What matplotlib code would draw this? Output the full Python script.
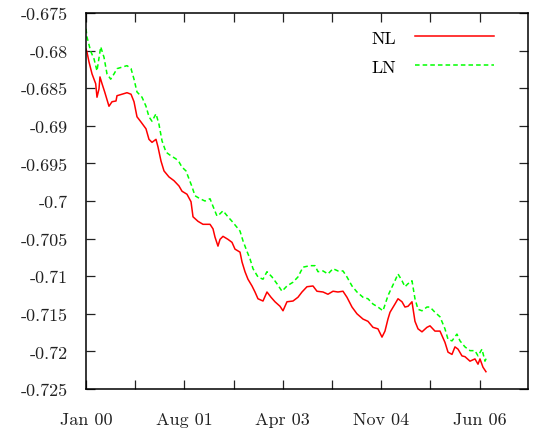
import matplotlib
matplotlib.use("Agg")
import matplotlib.pyplot as plt
from matplotlib.ticker import FixedLocator, FuncFormatter
import numpy as np

# === Данные, время в долях года ===
nl_years = [2000.055, 2000.071, 2000.103, 2000.152, 2000.211, 2000.232, 2000.264, 2000.280,
            2000.313, 2000.356, 2000.425, 2000.474, 2000.538, 2000.554, 2000.635, 2000.715,
            2000.780, 2000.828, 2000.876, 2000.941, 2001.021, 2001.069, 2001.118, 2001.182,
            2001.214, 2001.263, 2001.311, 2001.391, 2001.472, 2001.552, 2001.601, 2001.681,
            2001.746, 2001.778, 2001.858, 2001.939, 2002.052, 2002.100, 2002.132, 2002.180,
            2002.213, 2002.261, 2002.341, 2002.406, 2002.454, 2002.535, 2002.567, 2002.615,
            2002.663, 2002.728, 2002.776, 2002.824, 2002.905, 2002.969, 2003.034, 2003.098,
            2003.179, 2003.227, 2003.291, 2003.388, 2003.468, 2003.533, 2003.613, 2003.710,
            2003.774, 2003.871, 2003.951, 2004.032, 2004.112, 2004.193, 2004.257, 2004.338,
            2004.418, 2004.515, 2004.595, 2004.676, 2004.756, 2004.821, 2004.869, 2004.917,
            2004.950, 2005.030, 2005.079, 2005.143, 2005.191, 2005.240, 2005.304, 2005.352,
            2005.401, 2005.465, 2005.545, 2005.594, 2005.674, 2005.755, 2005.835, 2005.884,
            2005.948, 2005.996, 2006.045, 2006.109, 2006.157, 2006.238, 2006.318, 2006.367,
            2006.399, 2006.447, 2006.495]
nl_values = [-0.6798, -0.6802, -0.6815, -0.6831, -0.6844, -0.6862, -0.6851, -0.6835,
             -0.6844, -0.6855, -0.6874, -0.6868, -0.6867, -0.6860, -0.6858, -0.6856,
             -0.6858, -0.6868, -0.6888, -0.6895, -0.6904, -0.6918, -0.6922, -0.6918,
             -0.6928, -0.6947, -0.6960, -0.6968, -0.6973, -0.6980, -0.6987, -0.6991,
             -0.7001, -0.7021, -0.7027, -0.7031, -0.7031, -0.7037, -0.7048, -0.7060,
             -0.7051, -0.7047, -0.7051, -0.7055, -0.7064, -0.7068, -0.7081, -0.7094,
             -0.7104, -0.7113, -0.7121, -0.7130, -0.7133, -0.7121, -0.7128, -0.7134,
             -0.7140, -0.7146, -0.7134, -0.7133, -0.7128, -0.7121, -0.7114, -0.7113,
             -0.7120, -0.7121, -0.7124, -0.7120, -0.7121, -0.7120, -0.7128, -0.7141,
             -0.7150, -0.7157, -0.7160, -0.7168, -0.7170, -0.7181, -0.7173, -0.7157,
             -0.7148, -0.7137, -0.7130, -0.7134, -0.7141, -0.7140, -0.7134, -0.7160,
             -0.7170, -0.7174, -0.7168, -0.7166, -0.7173, -0.7173, -0.7188, -0.7201,
             -0.7204, -0.7194, -0.7197, -0.7206, -0.7207, -0.7213, -0.7210, -0.7217,
             -0.7210, -0.7221, -0.7227]

ln_years = [2000.055, 2000.071, 2000.131, 2000.184, 2000.232, 2000.292, 2000.345, 2000.393,
            2000.453, 2000.506, 2000.554, 2000.635, 2000.715, 2000.780, 2000.828, 2000.876,
            2000.957, 2001.021, 2001.069, 2001.118, 2001.182, 2001.230, 2001.279, 2001.343,
            2001.424, 2001.504, 2001.552, 2001.601, 2001.665, 2001.697, 2001.762, 2001.810,
            2001.891, 2001.971, 2002.052, 2002.100, 2002.164, 2002.213, 2002.261, 2002.341,
            2002.406, 2002.486, 2002.535, 2002.583, 2002.647, 2002.696, 2002.744, 2002.824,
            2002.905, 2002.969, 2003.050, 2003.130, 2003.211, 2003.291, 2003.388, 2003.468,
            2003.549, 2003.662, 2003.742, 2003.790, 2003.871, 2003.951, 2004.032, 2004.112,
            2004.193, 2004.257, 2004.338, 2004.418, 2004.515, 2004.595, 2004.676, 2004.756,
            2004.837, 2004.917, 2004.950, 2005.030, 2005.079, 2005.143, 2005.191, 2005.240,
            2005.304, 2005.352, 2005.401, 2005.465, 2005.545, 2005.594, 2005.674, 2005.755,
            2005.835, 2005.884, 2005.948, 2006.028, 2006.077, 2006.157, 2006.238, 2006.318,
            2006.367, 2006.431, 2006.479, 2006.512]
ln_values = [-0.6771, -0.6782, -0.6801, -0.6811, -0.6827, -0.6795, -0.6809, -0.6831,
             -0.6838, -0.6831, -0.6824, -0.6822, -0.6820, -0.6824, -0.6838, -0.6855,
             -0.6862, -0.6874, -0.6888, -0.6894, -0.6884, -0.6898, -0.6920, -0.6935,
             -0.6940, -0.6944, -0.6948, -0.6955, -0.6960, -0.6967, -0.6981, -0.6993,
             -0.6997, -0.7000, -0.6997, -0.7007, -0.7020, -0.7017, -0.7013, -0.7021,
             -0.7027, -0.7035, -0.7040, -0.7053, -0.7067, -0.7077, -0.7090, -0.7101,
             -0.7104, -0.7094, -0.7101, -0.7110, -0.7120, -0.7113, -0.7108, -0.7101,
             -0.7088, -0.7086, -0.7086, -0.7094, -0.7093, -0.7097, -0.7090, -0.7093,
             -0.7093, -0.7101, -0.7113, -0.7121, -0.7128, -0.7130, -0.7137, -0.7141,
             -0.7146, -0.7126, -0.7120, -0.7106, -0.7097, -0.7106, -0.7114, -0.7110,
             -0.7106, -0.7130, -0.7144, -0.7146, -0.7141, -0.7141, -0.7148, -0.7154,
             -0.7170, -0.7184, -0.7186, -0.7177, -0.7186, -0.7194, -0.7199, -0.7199,
             -0.7206, -0.7197, -0.7213, -0.7207]

x_major = [2000.055, 2001.639, 2003.224, 2004.808, 2006.393]
x_minor = [2000.847, 2002.432, 2004.016, 2005.600]
x_labels = ["Jan 00", "Aug 01", "Apr 03", "Nov 04", "Jun 06"]
y_ticks = [-0.725, -0.72, -0.715, -0.71, -0.705, -0.7, -0.695, -0.69, -0.685, -0.68, -0.675]

# === Оформление ===
plt.rcParams['font.family'] = ['cmr10', 'DejaVu Serif']
plt.rcParams['axes.unicode_minus'] = False
plt.rcParams['axes.formatter.use_mathtext'] = True

fig = plt.figure(figsize=(5.36, 4.35), dpi=100)
ax = fig.add_axes([86 / 536, 1 - 390 / 435, 442 / 536, 376 / 435])

ax.plot(nl_years, nl_values, color='#ff0000', lw=1.1, label='NL')
ax.plot(ln_years, ln_values, color='#00ff00', lw=1.1, dashes=(3, 2), label='LN')

ax.set_xlim(2000.055, 2007.172)
ax.set_ylim(-0.725, -0.675)

ax.xaxis.set_major_locator(FixedLocator(x_major))
ax.xaxis.set_minor_locator(FixedLocator(x_minor))
ax.set_xticklabels(x_labels)
ax.yaxis.set_major_locator(FixedLocator(y_ticks))
ax.yaxis.set_major_formatter(FuncFormatter(lambda v, p: ('%g' % round(v, 3)).replace('\u2212', '-')))

for s in ax.spines.values():
    s.set_linewidth(1.1)
ax.tick_params(which='both', direction='in', top=True, right=True, length=6.5, width=0.9,
               labelsize=13, colors='#222222')
ax.tick_params(axis='x', which='major', pad=16)
ax.tick_params(axis='y', pad=13)

ax.legend(loc='upper right', bbox_to_anchor=(0.923, 0.955), frameon=False, markerfirst=False,
          handlelength=4.4, handletextpad=1.0, labelspacing=0.75, borderpad=0, borderaxespad=0,
          fontsize=13)

fig.savefig('out.png', dpi=100)
